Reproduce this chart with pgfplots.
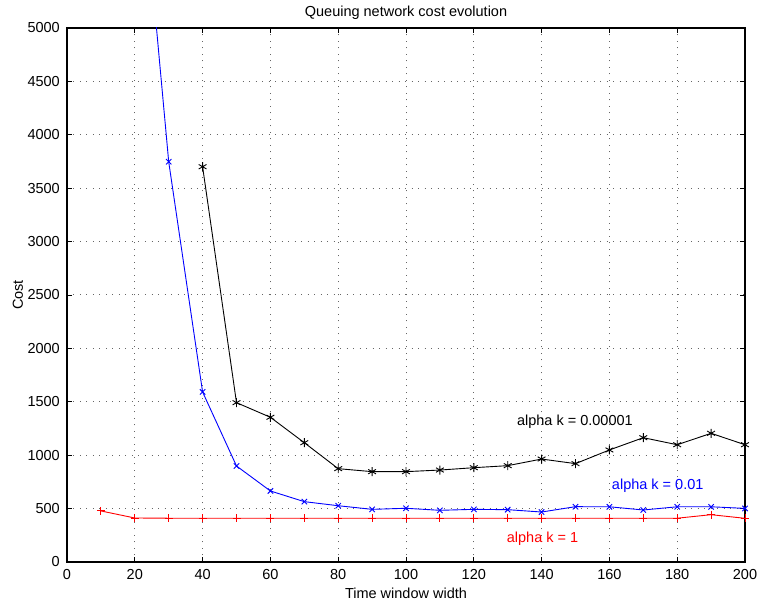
\documentclass[border=0pt]{standalone}
\usepackage{fontspec}
\setmainfont{Liberation Sans}
\usepackage{pgfplots}
\pgfplotsset{compat=1.18}
\begin{document}
\fontsize{14.5}{17}\selectfont
\begin{tikzpicture}
\begin{axis}[
    scale only axis, width=678pt, height=534pt,
    xmin=0, xmax=200, ymin=0, ymax=5000,
    xtick={0,20,...,200}, ytick={0,500,...,5000},
    scaled ticks=false,
    /pgf/number format/assume math mode=true,
    /pgf/number format/1000 sep={},
    tick align=inside, tick pos=both, major tick length=5pt,
    every tick/.style={black, line width=0.8pt},
    grid=major, grid style={black!60, dash pattern=on 1pt off 5.5pt, line width=1pt},
    axis line style={line width=1.2pt},
    title={Queuing network cost evolution},
    title style={at={(0.5,1)}, anchor=center, yshift=9pt, inner sep=0pt},
    xlabel={Time window width},
    xlabel style={at={(0.5,0)}, anchor=center, yshift=-31pt, inner sep=0pt},
    ylabel={Cost},
    ylabel style={at={(0,0.5)}, anchor=center, yshift=49pt, inner sep=0pt},
    xticklabel style={anchor=center, yshift=-13pt, inner sep=0pt},
    yticklabel style={anchor=east, xshift=-7pt, inner sep=0pt},
    clip=true,
]
% alpha k = 1
\addplot[red, line width=0.9pt, mark=+, mark size=4pt, mark options={solid}] coordinates {
    (10,478) (20,412) (30,410) (40,410) (50,410) (60,410) (70,410) (80,410)
    (90,410) (100,410) (110,410) (120,410) (130,410) (140,410) (150,410)
    (160,410) (170,410) (180,410) (190,443) (200,409)
};
% alpha k = 0.01
\addplot[blue, line width=0.9pt, mark=x, mark size=3.8pt, mark options={solid}] coordinates {
    (20,7220) (30,3748) (40,1592) (50,899) (60,665) (70,565) (80,527) (90,493)
    (100,503) (110,484) (120,493) (130,490) (140,468) (150,518) (160,517)
    (170,487) (180,517) (190,517) (200,502)
};
% alpha k = 0.00001
\addplot[black, line width=0.9pt, mark=asterisk, mark size=4.5pt, mark options={solid}] coordinates {
    (40,3701) (50,1492) (60,1355) (70,1117) (80,874) (90,846) (100,846)
    (110,861) (120,883) (130,902) (140,964) (150,921) (160,1049) (170,1164)
    (180,1098) (190,1205) (200,1098)
};
\node[anchor=west, inner sep=0pt, black] at (axis cs:132.7,1314) {alpha k = 0.00001};
\node[anchor=west, inner sep=0pt, blue] at (axis cs:160.7,712) {alpha k = 0.01};
\node[anchor=west, inner sep=0pt, red] at (axis cs:129.7,215) {alpha k = 1};
\coordinate (sw) at (rel axis cs:0,0);
\coordinate (ne) at (rel axis cs:1,1);
\end{axis}
\pgfresetboundingbox
\path[use as bounding box] ([shift={(-67pt,-43pt)}]sw) rectangle ([shift={(13pt,28pt)}]ne);
\end{tikzpicture}
\end{document}
